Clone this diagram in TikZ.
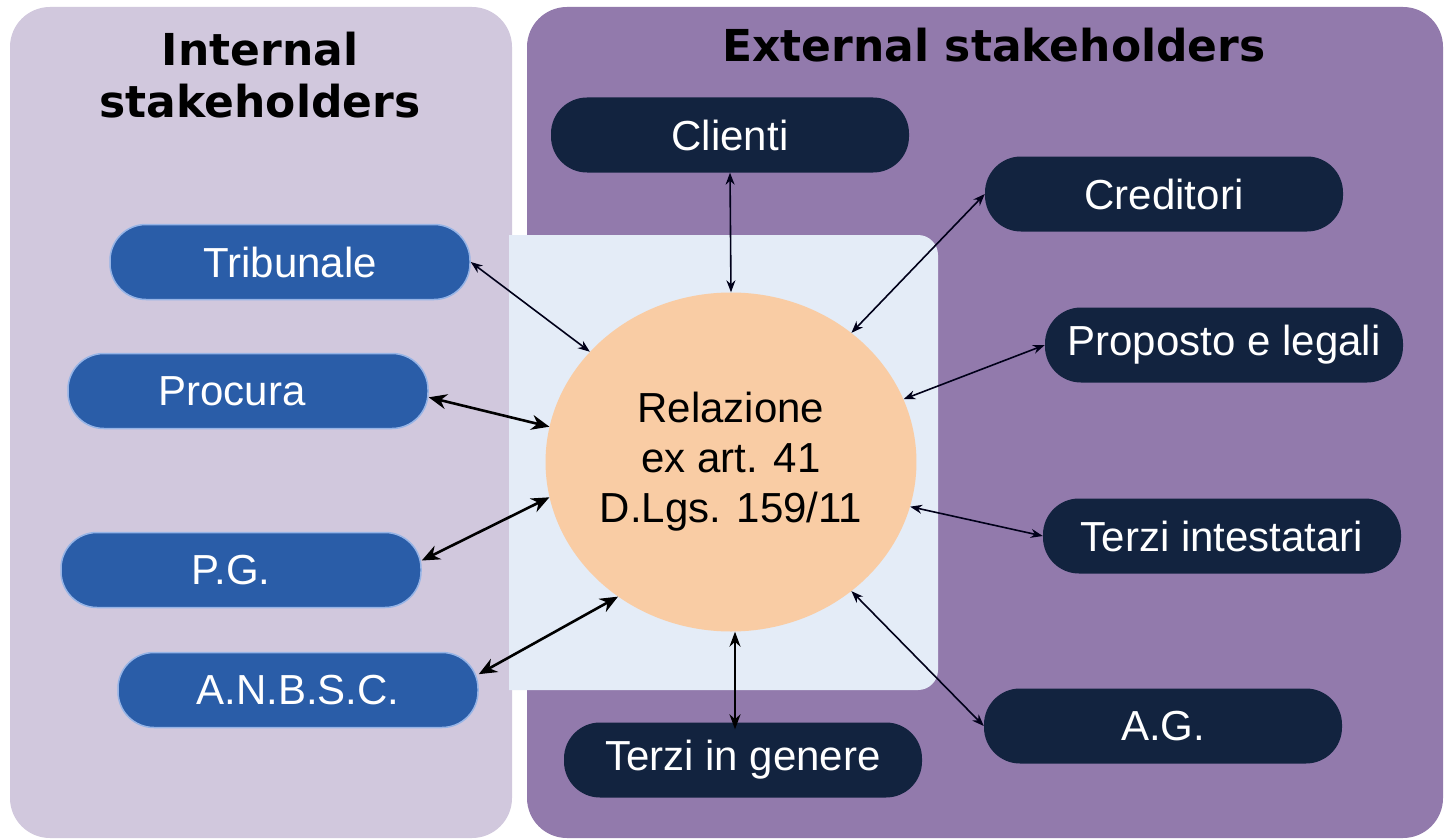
\documentclass[tikz,border=0pt]{standalone}
\usepackage{fontspec}
\setmainfont{Liberation Sans}
\newfontfamily\titlefont{DejaVu Sans}
\usetikzlibrary{arrows.meta,shapes.geometric}
\definecolor{inpanel}{RGB}{209,200,221}
\definecolor{expanel}{RGB}{146,122,172}
\definecolor{innerbg}{RGB}{228,236,247}
\definecolor{peach}{RGB}{249,204,164}
\definecolor{boxblue}{RGB}{42,93,168}
\definecolor{boxedge}{RGB}{150,180,230}
\definecolor{navy}{RGB}{18,35,63}
\begin{document}
\begin{tikzpicture}[x=1pt,y=-1pt,
  inbox/.style={rectangle, rounded corners=36pt, fill=boxblue, draw=boxedge, line width=1.5pt,
    minimum width=360pt, minimum height=75pt, inner sep=0pt, text=white,
    font=\fontsize{42}{42}\selectfont},
  exbox/.style={rectangle, rounded corners=36pt, fill=navy, draw=none,
    minimum width=358pt, minimum height=75pt, inner sep=0pt, text=white,
    font=\fontsize{42}{42}\selectfont},
  titl/.style={font=\titlefont\bfseries\fontsize{44}{52}\selectfont, text=black, align=center},
  arrthin/.style={line width=1.6pt, draw=black!90!blue, {Stealth[length=12pt,width=9pt]}-{Stealth[length=12pt,width=9pt]}},
  arrthick/.style={line width=2.6pt, draw=black, {Stealth[length=18pt,width=15pt]}-{Stealth[length=18pt,width=15pt]}}
]
\useasboundingbox (0,0) rectangle (1445,840);
\fill[white] (0,0) rectangle (1445,840);
% panels
\fill[inpanel, rounded corners=40pt] (10,7) rectangle (512,838);
\fill[expanel, rounded corners=40pt] (527,7) rectangle (1443,838);
% inner light area
\fill[innerbg] (509,235) -- (918,235) arc[start angle=90,end angle=0,radius=20pt]
  -- (938,670) arc[start angle=0,end angle=-90,radius=20pt] -- (509,690) -- cycle;
% titles
\node[titl] (intt) at (260,75) {Internal\\stakeholders};
\node[titl, anchor=base] (extt) at (994,62) {External stakeholders};
% central node
\node[ellipse, fill=peach, minimum width=359pt, minimum height=339pt, inner sep=0pt,
  align=center, font=\fontsize{42}{50}\selectfont] (rel) at (731,462)
  {Relazione\\ex art. 41\\D.Lgs. 159/11};
% internal stakeholders
\node[inbox] (trib) at (290,262) {Tribunale};
\node[inbox] (proc) at (248,391) {\hspace*{-32pt}Procura};
\node[inbox] (pg) at (241,570) {\hspace*{-20pt}P.G.};
\node[inbox] (anbsc) at (298,690) {A.N.B.S.C.};
% external stakeholders
\node[exbox] (cli) at (730,135) {Clienti};
\node[exbox] (cred) at (1164,194) {Creditori};
\node[exbox] (prop) at (1224,345) {Proposto e legali};
\node[exbox] (terzint) at (1222,536) {Terzi intestatari};
\node[exbox] (ag) at (1163,726) {A.G.};
\node[exbox] (terzgen) at (743,760) {Terzi in genere};
% connectors
\draw[arrthin] (trib.east) -- (rel.142);
\draw[arrthick] (proc.-2) -- (rel.169);
\draw[arrthick] (pg.3) -- (rel.191);
\draw[arrthick] (anbsc.5) -- (rel.230);
\draw[arrthin] (cli.south) -- (rel.90);
\draw[arrthin] (cred.west) -- (rel.47);
\draw[arrthin] (prop.west) -- (rel.20);
\draw[arrthin] (terzint.west) -- (rel.-14);
\draw[arrthin] (ag.west) -- (rel.-47);
\draw[line width=2pt, {Stealth[length=15pt,width=11pt]}-{Stealth[length=15pt,width=11pt]}] ([xshift=4pt]rel.south) -- ([xshift=-8pt,yshift=-7pt]terzgen.north);
\end{tikzpicture}
\end{document}
